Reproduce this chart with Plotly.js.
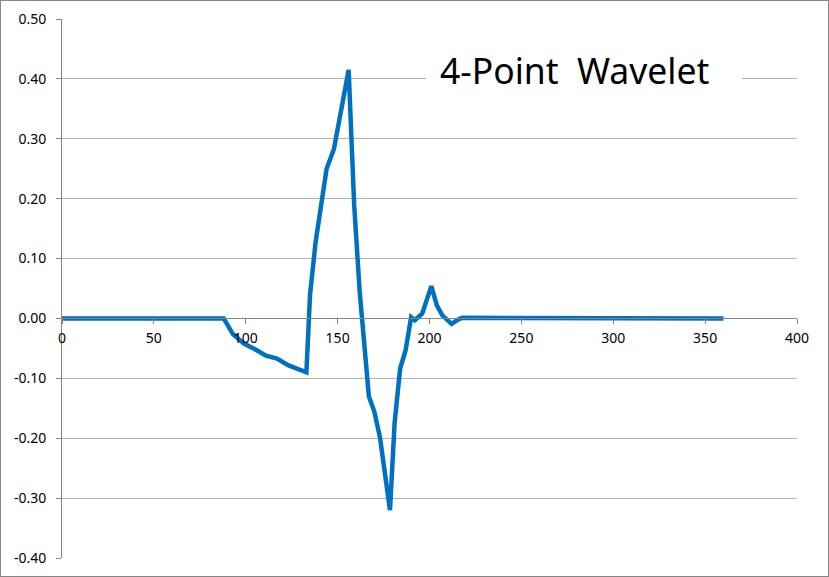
<!DOCTYPE html>
<html>
<head>
<meta charset="utf-8">
<script src="https://cdn.plot.ly/plotly-3.0.1.min.js"></script>
<style>
html,body{margin:0;padding:0;background:#fff;}
#chart{width:827px;height:575px;border:1px solid #868686;}
</style>
</head>
<body>
<div id="chart"></div>
<script>
const xValues = [0, 88, 93, 99, 106, 111, 117, 123, 133, 135, 138, 144, 148, 156, 159, 162, 167, 170, 173, 178.5, 181, 184, 187, 190, 192, 196, 201, 204, 207, 212, 216, 218, 360];
const yValues = [0, 0, -0.026, -0.042, -0.053, -0.062, -0.067, -0.078, -0.090, 0.04, 0.127, 0.25, 0.283, 0.415, 0.19, 0.045, -0.13, -0.156, -0.198, -0.32, -0.175, -0.084, -0.053, 0.002, -0.003, 0.008, 0.054, 0.022, 0.005, -0.009, -0.001, 0.001, 0];
const titleText = "4-Point\u00A0\u00A0Wavelet";
const xTicks = [0, 50, 100, 150, 200, 250, 300, 350, 400];
const yTicks = [-0.4, -0.3, -0.2, -0.1, 0, 0.1, 0.2, 0.3, 0.4, 0.5];

const trace = {
  x: xValues, y: yValues, type: 'scatter', mode: 'lines',
  line: {color: '#0070C0', width: 4.5},
  hoverinfo: 'skip'
};

const font = {family: 'Noto Sans, Open Sans, sans-serif', size: 14, color: '#000'};

// plot area in page pixels: left 62, right 797, top 19, bottom 558
const px = p => (p - 62) / 735;
const py = p => (558 - p) / 539;

const layout = {
  width: 827, height: 575,
  margin: {l: 61, r: 31, t: 18, b: 18},
  paper_bgcolor: '#fff', plot_bgcolor: '#fff',
  showlegend: false,
  font: font,
  xaxis: {
    range: [0, 400], tickvals: xTicks, ticktext: xTicks.map(String),
    showgrid: false, zeroline: false,
    showline: true, linecolor: '#868686', linewidth: 1,
    ticks: 'outside', ticklen: 5, tickcolor: '#868686',
    anchor: 'free', position: 0.4/0.9,
    ticklabelstandoff: 2,
    tickfont: font, fixedrange: true
  },
  yaxis: {
    range: [-0.4, 0.5], tickvals: yTicks, ticktext: yTicks.map(v => v.toFixed(2)),
    showgrid: true, gridcolor: '#b3b3b3', gridwidth: 1, zeroline: false,
    showline: true, linecolor: '#868686', linewidth: 1,
    ticks: 'outside', ticklen: 5, tickcolor: '#868686',
    ticklabelstandoff: 7,
    tickfont: font, fixedrange: true
  },
  shapes: [{
    type: 'rect', xref: 'paper', yref: 'paper', layer: 'above',
    x0: px(426), x1: px(742), y0: py(94), y1: py(48),
    fillcolor: '#fff', line: {width: 0}
  }],
  annotations: [{
    text: titleText, xref: 'paper', yref: 'paper',
    x: px(575), y: py(70),
    xanchor: 'center', yanchor: 'middle', showarrow: false,
    font: {family: 'Noto Sans, Open Sans, sans-serif', size: 35.5, color: '#000'}
  }]
};

Plotly.newPlot('chart', [trace], layout, {staticPlot: true, displayModeBar: false});
</script>
</body>
</html>
